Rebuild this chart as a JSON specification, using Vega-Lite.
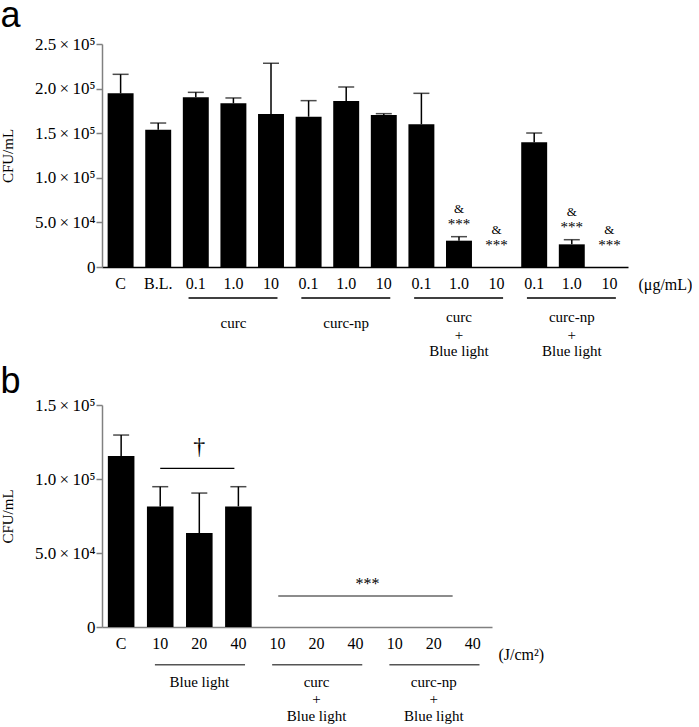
{
  "$schema": "https://vega.github.io/schema/vega-lite/v6.json",
  "padding": {"left": 0, "top": -3, "right": 0, "bottom": 0},
  "background": "white",
  "spacing": 138,
  "bounds": "flush",
  "config": {
    "view": {"stroke": null},
    "font": "Liberation Serif",
    "axis": {"labelFont": "Liberation Serif", "titleFont": "Liberation Serif", "labelColor": "black", "titleColor": "black", "grid": false, "titleFontWeight": "normal"},
    "text": {"font": "Liberation Serif", "color": "black"}
  },
  "vconcat": [
    {
      "width": 526,
      "height": 223,
      "title": {"text": "a", "anchor": "start", "frame": "bounds", "font": "Liberation Sans", "fontSize": 36, "fontWeight": "normal", "baseline": "alphabetic", "offset": -27.5, "color": "black"},
      "data": {"values": [
        {"g": "C", "v": 194700, "e": 216000, "sig": false},
        {"g": "B.L.", "v": 153900, "e": 161400, "sig": false},
        {"g": "curc|0.1", "v": 190200, "e": 195800, "sig": false},
        {"g": "curc|1.0", "v": 183500, "e": 189500, "sig": false},
        {"g": "curc|10", "v": 171500, "e": 228400, "sig": false},
        {"g": "np|0.1", "v": 168500, "e": 186500, "sig": false},
        {"g": "np|1.0", "v": 186100, "e": 201800, "sig": false},
        {"g": "np|10", "v": 170400, "e": 171900, "sig": false},
        {"g": "cbl|0.1", "v": 160000, "e": 194700, "sig": false},
        {"g": "cbl|1.0", "v": 29500, "e": 34000, "sig": true},
        {"g": "cbl|10", "v": 0, "e": 0, "sig": true},
        {"g": "nbl|0.1", "v": 139800, "e": 150200, "sig": false},
        {"g": "nbl|1.0", "v": 25400, "e": 30600, "sig": true},
        {"g": "nbl|10", "v": 0, "e": 0, "sig": true}
      ]},
      "layer": [
        {
          "mark": {"type": "bar", "color": "black"},
          "encoding": {
            "x": {"field": "g", "type": "nominal", "title": "(μg/mL)",
              "scale": {"domain": ["C","B.L.","curc|0.1","curc|1.0","curc|10","np|0.1","np|1.0","np|10","cbl|0.1","cbl|1.0","cbl|10","nbl|0.1","nbl|1.0","nbl|10"], "paddingInner": 0.31, "paddingOuter": 0.15},
              "axis": {"ticks": false, "domainColor": "black", "domainWidth": 1.5, "labelFontSize": 16, "labelPadding": 8, "labelAngle": 0,
                "labelExpr": "indexof(datum.label,'|') >= 0 ? substring(datum.label, indexof(datum.label,'|')+1) : datum.label",
                "title": "(μg/mL)", "titleFontSize": 16, "titleX": 536, "titleY": 17, "titleAlign": "left", "titleBaseline": "middle", "titleAnchor": "start"}},
            "y": {"field": "v", "type": "quantitative", "title": "CFU/mL",
              "scale": {"domain": [0, 250000], "nice": false},
              "axis": {"values": [0, 50000, 100000, 150000, 200000, 250000], "tickSize": 6, "domainColor": "#808080", "tickColor": "#808080", "domainWidth": 1.5, "tickWidth": 1.5, "labelFontSize": 17, "labelPadding": 1,
                "labelExpr": "datum.value == 0 ? '0' : (datum.value < 100000 ? format(datum.value/10000, '.1f') + '\u2009×\u200910⁴' : format(datum.value/100000, '.1f') + '\u2009×\u200910⁵')",
                "title": "CFU/mL", "titleFontSize": 15, "titlePadding": 19}}
          }
        },
        {
          "transform": [{"filter": "datum.e > datum.v"}],
          "mark": {"type": "rule", "color": "black", "strokeWidth": 1.5},
          "encoding": {
            "x": {"field": "g", "type": "nominal", "title": "(μg/mL)"},
            "y": {"field": "v", "type": "quantitative", "title": "CFU/mL"},
            "y2": {"field": "e"}
          }
        },
        {
          "transform": [{"filter": "datum.e > datum.v"}],
          "mark": {"type": "tick", "color": "black", "thickness": 1.5, "size": 16},
          "encoding": {
            "x": {"field": "g", "type": "nominal", "title": "(μg/mL)"},
            "y": {"field": "e", "type": "quantitative", "title": "CFU/mL"}
          }
        },
        {
          "transform": [{"filter": "datum.sig && datum.v > 0"}],
          "mark": {"type": "text", "text": "***", "fontSize": 15, "baseline": "middle", "dy": -13},
          "encoding": {
            "x": {"field": "g", "type": "nominal", "title": "(μg/mL)"},
            "y": {"field": "e", "type": "quantitative", "title": "CFU/mL"}
          }
        },
        {
          "transform": [{"filter": "datum.sig && datum.v > 0"}],
          "mark": {"type": "text", "text": "&", "fontSize": 13, "baseline": "middle", "dy": -28},
          "encoding": {
            "x": {"field": "g", "type": "nominal", "title": "(μg/mL)"},
            "y": {"field": "e", "type": "quantitative", "title": "CFU/mL"}
          }
        },
        {
          "transform": [{"filter": "datum.sig && datum.v == 0"}],
          "mark": {"type": "text", "text": "***", "fontSize": 15, "baseline": "middle", "dy": -22},
          "encoding": {
            "x": {"field": "g", "type": "nominal", "title": "(μg/mL)"},
            "y": {"field": "e", "type": "quantitative", "title": "CFU/mL"}
          }
        },
        {
          "transform": [{"filter": "datum.sig && datum.v == 0"}],
          "mark": {"type": "text", "text": "&", "fontSize": 13, "baseline": "middle", "dy": -37},
          "encoding": {
            "x": {"field": "g", "type": "nominal", "title": "(μg/mL)"},
            "y": {"field": "e", "type": "quantitative", "title": "CFU/mL"}
          }
        },
        {
          "data": {"values": [
            {"g": "curc|0.1", "g2": "curc|10"},
            {"g": "np|0.1", "g2": "np|10"},
            {"g": "cbl|0.1", "g2": "cbl|10"},
            {"g": "nbl|0.1", "g2": "nbl|10"}
          ]},
          "mark": {"type": "rule", "color": "black", "strokeWidth": 1.3},
          "encoding": {
            "x": {"field": "g", "type": "nominal", "title": "(μg/mL)", "bandPosition": 0.22},
            "x2": {"field": "g2", "bandPosition": 0.75},
            "y": {"datum": -34750, "type": "quantitative"}
          }
        },
        {
          "data": {"values": [
            {"g": "curc|1.0", "t": "curc"},
            {"g": "np|1.0", "t": "curc-np"}
          ]},
          "mark": {"type": "text", "fontSize": 15, "baseline": "middle"},
          "encoding": {
            "x": {"field": "g", "type": "nominal", "title": "(μg/mL)"},
            "y": {"datum": -62780, "type": "quantitative"},
            "text": {"field": "t"}
          }
        },
        {
          "data": {"values": [
            {"g": "cbl|1.0", "t": "curc"},
            {"g": "nbl|1.0", "t": "curc-np"}
          ]},
          "mark": {"type": "text", "fontSize": 15, "baseline": "middle"},
          "encoding": {
            "x": {"field": "g", "type": "nominal", "title": "(μg/mL)"},
            "y": {"datum": -56050, "type": "quantitative"},
            "text": {"field": "t"}
          }
        },
        {
          "data": {"values": [
            {"g": "cbl|1.0", "t": "+"},
            {"g": "nbl|1.0", "t": "+"}
          ]},
          "mark": {"type": "text", "fontSize": 15, "baseline": "middle"},
          "encoding": {
            "x": {"field": "g", "type": "nominal", "title": "(μg/mL)"},
            "y": {"datum": -76230, "type": "quantitative"},
            "text": {"field": "t"}
          }
        },
        {
          "data": {"values": [
            {"g": "cbl|1.0", "t": "Blue light"},
            {"g": "nbl|1.0", "t": "Blue light"}
          ]},
          "mark": {"type": "text", "fontSize": 15, "baseline": "middle"},
          "encoding": {
            "x": {"field": "g", "type": "nominal", "title": "(μg/mL)"},
            "y": {"datum": -94170, "type": "quantitative"},
            "text": {"field": "t"}
          }
        }
      ]
    },
    {
      "width": 390,
      "height": 222,
      "title": {"text": "b", "anchor": "start", "frame": "bounds", "font": "Liberation Sans", "fontSize": 36, "fontWeight": "normal", "baseline": "alphabetic", "offset": -33, "color": "black"},
      "data": {"values": [
        {"g": "C", "v": 115500, "e": 129700},
        {"g": "BL|10", "v": 81500, "e": 94800},
        {"g": "BL|20", "v": 63500, "e": 90500},
        {"g": "BL|40", "v": 81500, "e": 94800},
        {"g": "c|10", "v": 0, "e": 0},
        {"g": "c|20", "v": 0, "e": 0},
        {"g": "c|40", "v": 0, "e": 0},
        {"g": "n|10", "v": 0, "e": 0},
        {"g": "n|20", "v": 0, "e": 0},
        {"g": "n|40", "v": 0, "e": 0}
      ]},
      "layer": [
        {
          "mark": {"type": "bar", "color": "black"},
          "encoding": {
            "x": {"field": "g", "type": "nominal", "title": "(J/cm²)",
              "scale": {"domain": ["C","BL|10","BL|20","BL|40","c|10","c|20","c|40","n|10","n|20","n|40"], "paddingInner": 0.32, "paddingOuter": 0.15},
              "axis": {"ticks": false, "domainColor": "#808080", "domainWidth": 1.5, "labelFontSize": 16, "labelPadding": 8, "labelAngle": 0,
                "labelExpr": "indexof(datum.label,'|') >= 0 ? substring(datum.label, indexof(datum.label,'|')+1) : datum.label",
                "title": "(J/cm²)", "titleFontSize": 16, "titleX": 396, "titleY": 27, "titleAlign": "left", "titleBaseline": "middle", "titleAnchor": "start"}},
            "y": {"field": "v", "type": "quantitative", "title": "CFU/mL",
              "scale": {"domain": [0, 150000], "nice": false},
              "axis": {"values": [0, 50000, 100000, 150000], "tickSize": 6, "domainColor": "#808080", "tickColor": "#808080", "domainWidth": 1.5, "tickWidth": 1.5, "labelFontSize": 17, "labelPadding": 1,
                "labelExpr": "datum.value == 0 ? '0' : (datum.value < 100000 ? format(datum.value/10000, '.1f') + '\u2009×\u200910⁴' : format(datum.value/100000, '.1f') + '\u2009×\u200910⁵')",
                "title": "CFU/mL", "titleFontSize": 15, "titlePadding": 19}}
          }
        },
        {
          "transform": [{"filter": "datum.e > datum.v"}],
          "mark": {"type": "rule", "color": "black", "strokeWidth": 1.5},
          "encoding": {
            "x": {"field": "g", "type": "nominal", "title": "(J/cm²)"},
            "y": {"field": "v", "type": "quantitative", "title": "CFU/mL"},
            "y2": {"field": "e"}
          }
        },
        {
          "transform": [{"filter": "datum.e > datum.v"}],
          "mark": {"type": "tick", "color": "black", "thickness": 1.5, "size": 16},
          "encoding": {
            "x": {"field": "g", "type": "nominal", "title": "(J/cm²)"},
            "y": {"field": "e", "type": "quantitative", "title": "CFU/mL"}
          }
        },
        {
          "data": {"values": [{"g": "BL|10", "g2": "BL|40"}]},
          "mark": {"type": "rule", "color": "black", "strokeWidth": 1.3},
          "encoding": {
            "x": {"field": "g", "type": "nominal", "title": "(J/cm²)", "bandPosition": 0.5},
            "x2": {"field": "g2", "bandPosition": 0.35},
            "y": {"datum": 107235, "type": "quantitative"}
          }
        },
        {
          "data": {"values": [{"g": "BL|20", "t": "†"}]},
          "mark": {"type": "text", "fontSize": 24, "baseline": "middle"},
          "encoding": {
            "x": {"field": "g", "type": "nominal", "title": "(J/cm²)"},
            "y": {"datum": 121400, "type": "quantitative"},
            "text": {"field": "t"}
          }
        },
        {
          "data": {"values": [{"g": "c|10", "g2": "n|20"}]},
          "mark": {"type": "rule", "color": "#666666", "strokeWidth": 1.5},
          "encoding": {
            "x": {"field": "g", "type": "nominal", "title": "(J/cm²)", "bandPosition": 0.53},
            "x2": {"field": "g2", "bandPosition": 1.21},
            "y": {"datum": 20950, "type": "quantitative"}
          }
        },
        {
          "data": {"values": [{"g": "c|40", "t": "***"}]},
          "mark": {"type": "text", "fontSize": 16, "baseline": "middle"},
          "encoding": {
            "x": {"field": "g", "type": "nominal", "title": "(J/cm²)", "bandPosition": 0.95},
            "y": {"datum": 28850, "type": "quantitative"},
            "text": {"field": "t"}
          }
        },
        {
          "data": {"values": [
            {"g": "BL|10", "g2": "BL|40"},
            {"g": "c|10", "g2": "c|40"},
            {"g": "n|10", "g2": "n|40"}
          ]},
          "mark": {"type": "rule", "color": "#555555", "strokeWidth": 1.5},
          "encoding": {
            "x": {"field": "g", "type": "nominal", "title": "(J/cm²)", "bandPosition": 0.3},
            "x2": {"field": "g2", "bandPosition": 0.75},
            "y": {"datum": -25540, "type": "quantitative"}
          }
        },
        {
          "data": {"values": [
            {"g": "BL|20", "t": "Blue light"},
            {"g": "c|20", "t": "curc"},
            {"g": "n|20", "t": "curc-np"}
          ]},
          "mark": {"type": "text", "fontSize": 15, "baseline": "middle"},
          "encoding": {
            "x": {"field": "g", "type": "nominal", "title": "(J/cm²)"},
            "y": {"datum": -37160, "type": "quantitative"},
            "text": {"field": "t"}
          }
        },
        {
          "data": {"values": [
            {"g": "c|20", "t": "+"},
            {"g": "n|20", "t": "+"}
          ]},
          "mark": {"type": "text", "fontSize": 15, "baseline": "middle"},
          "encoding": {
            "x": {"field": "g", "type": "nominal", "title": "(J/cm²)"},
            "y": {"datum": -48850, "type": "quantitative"},
            "text": {"field": "t"}
          }
        },
        {
          "data": {"values": [
            {"g": "c|20", "t": "Blue light"},
            {"g": "n|20", "t": "Blue light"}
          ]},
          "mark": {"type": "text", "fontSize": 15, "baseline": "middle"},
          "encoding": {
            "x": {"field": "g", "type": "nominal", "title": "(J/cm²)"},
            "y": {"datum": -60140, "type": "quantitative"},
            "text": {"field": "t"}
          }
        }
      ]
    }
  ]
}
